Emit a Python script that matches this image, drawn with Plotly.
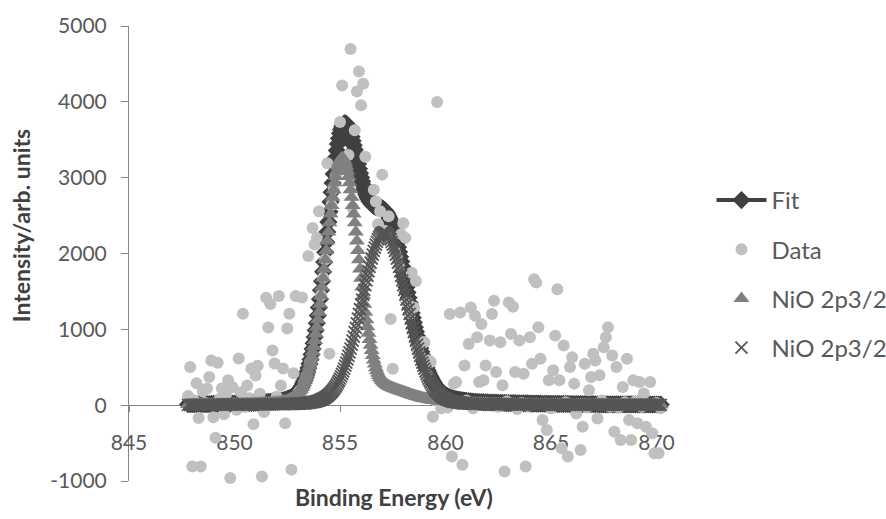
import numpy as np
import plotly.graph_objects as go

# Measured spectrum: binding energy grid (eV), 0.1 eV steps from 847.8 to 870.2
energy = np.round(np.arange(847.8, 870.25, 0.1), 1)

# Model curves: 0.1 eV in the flat tails, 0.05 eV across the peak region
model_energy = np.round(np.concatenate([
    np.arange(847.8, 852.45, 0.1),
    np.arange(852.5, 861.025, 0.05),
    np.arange(861.1, 870.25, 0.1),
]), 2)

# Fitted envelope
fit = [
    # 847.8 - 852.4
    12, 12, 12, 12, 13, 13, 14, 14, 15, 15,
    15, 16, 16, 16, 18, 18, 18, 19, 19, 21,
    21, 22, 22, 23, 24, 25, 26, 27, 28, 28,
    30, 31, 32, 33, 36, 37, 38, 41, 43, 45,
    47, 49, 53, 55, 60, 65, 73,
    # 852.50 - 861.00
    81, 85, 90, 97, 104, 112, 121, 131, 145, 157,
    174, 191, 211, 234, 257, 289, 320, 357, 397, 442,
    491, 545, 603, 668, 741, 817, 898, 987, 1081, 1182,
    1287, 1398, 1515, 1635, 1759, 1887, 2017, 2150, 2285, 2416,
    2550, 2680, 2808, 2931, 3050, 3160, 3265, 3359, 3445, 3518,
    3583, 3633, 3672, 3699, 3715, 3717, 3711, 3692, 3666, 3630,
    3587, 3538, 3484, 3426, 3367, 3304, 3243, 3179, 3119, 3059,
    3003, 2950, 2899, 2852, 2809, 2772, 2742, 2715, 2690, 2671,
    2654, 2640, 2629, 2621, 2613, 2609, 2608, 2606, 2603, 2601,
    2595, 2587, 2575, 2561, 2542, 2520, 2492, 2462, 2428, 2388,
    2346, 2300, 2251, 2196, 2140, 2082, 2021, 1958, 1893, 1827,
    1759, 1691, 1622, 1554, 1485, 1416, 1349, 1281, 1216, 1152,
    1090, 1028, 969, 912, 857, 804, 753, 704, 658, 613,
    572, 532, 495, 460, 428, 396, 368, 341, 316, 292,
    272, 251, 233, 216, 201, 186, 174, 162, 151, 141,
    132, 124, 117, 110, 104, 98, 93, 88, 84, 80,
    76, 72, 71, 68, 66, 63, 61, 59, 57, 56,
    54,
    # 861.1 - 870.2
    52, 49, 47, 45, 43, 42, 41,
    39, 38, 37, 35, 35, 33, 33, 32, 31, 30,
    29, 28, 28, 27, 26, 26, 25, 24, 24, 23,
    23, 23, 21, 21, 21, 21, 20, 20, 19, 19,
    18, 18, 18, 17, 17, 16, 16, 16, 16, 16,
    16, 14, 14, 14, 14, 14, 14, 13, 13, 13,
    13, 13, 13, 12, 12, 11, 11, 11, 11, 11,
    11, 11, 11, 11, 10, 10, 10, 10, 10, 10,
    10, 10, 10, 10, 10, 9, 9, 9, 9, 9,
    9, 9, 9, 9, 9,
]

# Measured counts on the 0.1 eV grid
data = [
    120, 502, -810, 60, 290, -170, -810, 180, 30, 220,
    370, 590, -160, -430, 560, 80, 220, -120, 140, 330,
    -960, 240, 20, -60, 615, 170, 1205, -20, 260, 90,
    485, -250, 390, 520, 150, -940, -90, 1415, 1025, 1335,
    720, 550, 110, 1440, 260, 485, -240, 1010, 1205, -850,
    420, 1440, 150, 190, 1420, 300, 370, 1966, 570, 2337,
    2120, 2206, 2556, 1450, 1680, 1920, 3189, 678, 2640, 2850,
    3010, 3150, 3735, 4216, 3200, 3100, 3300, 4696, 2600, 3626,
    4137, 4400, 3955, 4237, 3277, 1700, 1800, 1950, 2840, 2687,
    2385, 2556, 3040, 2300, 2250, 2490, 1136, 481, 2030, 1940,
    1830, 2254, 2400, 2206, 1350, 1200, 1747, 1288, 1638, 750,
    650, 830, 830, 410, 590, 568, -153, 60, 3997, 140,
    -40, 100, 40, -30, 1202, -678, 284, 305, 20, 1223,
    -786, 524, 60, 808, 1288, -40, 1180, 895, 305, 1070,
    328, 524, 10, 852, 1202, 1376, 436, -20, 830, 262,
    -874, 50, 1354, 940, 1297, 436, -50, 852, 30, 414,
    -808, -10, 895, 546, 1660, 1616, 1026, 612, -197, 20,
    -328, 328, -40, 459, 917, 1529, 328, -568, 786, 40,
    -678, 502, 633, 284, -109, 10, -590, -284, 546, -30,
    197, 371, 678, 590, -175, 393, 60, 764, 895, 1026,
    -20, 655, -350, 502, -30, -459, 240, 40, 612, -197,
    -459, 328, 50, -240, 305, -20, 153, -284, 10, 305,
    -371, -633, 30, -633, -40,
]

# First NiO 2p3/2 component (triangles)
nio_a = [
    # 847.8 - 852.4
    8, 8, 8, 8, 9, 9, 9, 9, 10, 10,
    10, 11, 11, 11, 12, 12, 12, 13, 13, 14,
    14, 15, 15, 16, 17, 17, 18, 19, 20, 20,
    21, 22, 23, 24, 26, 27, 28, 30, 32, 33,
    35, 37, 40, 42, 46, 51, 58,
    # 852.50 - 861.00
    65, 69, 74, 80, 87, 95, 103, 113, 126, 138,
    154, 170, 189, 211, 234, 264, 295, 330, 369, 412,
    459, 512, 568, 632, 702, 775, 853, 939, 1029, 1126,
    1226, 1332, 1443, 1557, 1674, 1794, 1916, 2039, 2164, 2284,
    2405, 2521, 2634, 2741, 2841, 2933, 3016, 3087, 3149, 3196,
    3232, 3253, 3260, 3253, 3232, 3196, 3149, 3087, 3016, 2933,
    2841, 2741, 2634, 2521, 2405, 2284, 2164, 2039, 1916, 1794,
    1674, 1557, 1443, 1332, 1226, 1126, 1035, 948, 865, 790,
    720, 655, 595, 543, 495, 455, 420, 391, 365, 344,
    325, 309, 295, 283, 272, 263, 254, 247, 240, 234,
    228, 222, 217, 211, 206, 201, 196, 191, 186, 181,
    176, 171, 166, 161, 156, 151, 146, 141, 137, 132,
    128, 123, 119, 115, 111, 107, 103, 99, 96, 92,
    89, 86, 83, 80, 77, 74, 72, 69, 67, 65,
    63, 61, 59, 57, 56, 54, 53, 51, 50, 48,
    47, 46, 45, 44, 43, 42, 41, 40, 39, 38,
    37, 36, 36, 35, 34, 33, 33, 32, 32, 31,
    31,
    # 861.1 - 870.2
    30, 29, 28, 27, 26, 26, 25,
    24, 24, 23, 22, 22, 21, 21, 20, 20, 19,
    19, 18, 18, 18, 17, 17, 16, 16, 16, 15,
    15, 15, 14, 14, 14, 14, 13, 13, 13, 13,
    12, 12, 12, 12, 12, 11, 11, 11, 11, 11,
    11, 10, 10, 10, 10, 10, 10, 9, 9, 9,
    9, 9, 9, 9, 9, 8, 8, 8, 8, 8,
    8, 8, 8, 8, 7, 7, 7, 7, 7, 7,
    7, 7, 7, 7, 7, 6, 6, 6, 6, 6,
    6, 6, 6, 6, 6,
]

# Second NiO 2p3/2 component (crosses)
nio_b = [
    # 847.8 - 852.4
    4, 4, 4, 4, 4, 4, 5, 5, 5, 5,
    5, 5, 5, 5, 6, 6, 6, 6, 6, 7,
    7, 7, 7, 7, 7, 8, 8, 8, 8, 8,
    9, 9, 9, 9, 10, 10, 10, 11, 11, 12,
    12, 12, 13, 13, 14, 14, 15,
    # 852.50 - 861.00
    16, 16, 16, 17, 17, 17, 18, 18, 19, 19,
    20, 21, 22, 23, 23, 25, 25, 27, 28, 30,
    32, 33, 35, 36, 39, 42, 45, 48, 52, 56,
    61, 66, 72, 78, 85, 93, 101, 111, 121, 132,
    145, 159, 174, 190, 209, 227, 249, 272, 296, 322,
    351, 380, 412, 446, 483, 521, 562, 605, 650, 697,
    746, 797, 850, 905, 962, 1020, 1079, 1140, 1203, 1265,
    1329, 1393, 1456, 1520, 1583, 1646, 1707, 1767, 1825, 1881,
    1934, 1985, 2034, 2078, 2118, 2154, 2188, 2215, 2238, 2257,
    2270, 2278, 2280, 2278, 2270, 2257, 2238, 2215, 2188, 2154,
    2118, 2078, 2034, 1985, 1934, 1881, 1825, 1767, 1707, 1646,
    1583, 1520, 1456, 1393, 1329, 1265, 1203, 1140, 1079, 1020,
    962, 905, 850, 797, 746, 697, 650, 605, 562, 521,
    483, 446, 412, 380, 351, 322, 296, 272, 249, 227,
    209, 190, 174, 159, 145, 132, 121, 111, 101, 93,
    85, 78, 72, 66, 61, 56, 52, 48, 45, 42,
    39, 36, 35, 33, 32, 30, 28, 27, 25, 25,
    23,
    # 861.1 - 870.2
    22, 20, 19, 18, 17, 16, 16,
    15, 14, 14, 13, 13, 12, 12, 12, 11, 11,
    10, 10, 10, 9, 9, 9, 9, 8, 8, 8,
    8, 8, 7, 7, 7, 7, 7, 7, 6, 6,
    6, 6, 6, 5, 5, 5, 5, 5, 5, 5,
    5, 4, 4, 4, 4, 4, 4, 4, 4, 4,
    4, 4, 4, 3, 3, 3, 3, 3, 3, 3,
    3, 3, 3, 3, 3, 3, 3, 3, 3, 3,
    3, 3, 3, 3, 3, 3, 3, 3, 3, 3,
    3, 3, 3, 3, 3,
]

x_ticks = [845, 850, 855, 860, 865, 870]
y_ticks = [-1000, 0, 1000, 2000, 3000, 4000, 5000]

FONT = "Lato, 'Open Sans', sans-serif"
AXIS_GREY = "#868686"

fig = go.Figure()
fig.add_trace(go.Scatter(
    x=model_energy, y=fit, name="Fit", mode="lines+markers",
    line=dict(color="#404040", width=4),
    marker=dict(symbol="diamond", size=14, color="#404040"),
    legendgroup="fit", cliponaxis=False,
))
fig.add_trace(go.Scatter(
    x=energy, y=data, name="Data", mode="markers",
    marker=dict(symbol="circle", size=12, color="#c0c0c0"),
    legendgroup="data", cliponaxis=False,
))
fig.add_trace(go.Scatter(
    x=model_energy, y=nio_a, name="NiO 2p3/2", mode="markers",
    marker=dict(symbol="triangle-up", size=14, color="#808080"),
    legendgroup="a", cliponaxis=False,
))
fig.add_trace(go.Scatter(
    x=model_energy, y=nio_b, name="NiO 2p3/2", mode="markers",
    marker=dict(symbol="x-thin", size=12, color="#555555",
                line=dict(color="#555555", width=1.8)),
    legendgroup="b", cliponaxis=False,
))

fig.update_layout(
    width=886, height=519,
    margin=dict(l=129, r=220, t=23, b=38),
    paper_bgcolor="white", plot_bgcolor="white",
    font=dict(family=FONT, size=21, color="#595959"),
    showlegend=True,
    xaxis=dict(
        range=[845, 870.45], tickvals=x_ticks, ticktext=[str(v) for v in x_ticks],
        anchor="free", position=1 / 6,
        showline=True, linecolor=AXIS_GREY, linewidth=1,
        ticks="outside", ticklen=6, tickcolor=AXIS_GREY, tickwidth=1,
        ticklabelstandoff=13,
        showgrid=False, zeroline=False, layer="below traces",
    ),
    yaxis=dict(
        range=[-1000, 5000], tickvals=y_ticks, ticktext=[str(v) for v in y_ticks],
        showline=True, linecolor=AXIS_GREY, linewidth=1,
        ticks="outside", ticklen=7, tickcolor=AXIS_GREY, tickwidth=1,
        ticklabelstandoff=10,
        showgrid=False, zeroline=False, layer="below traces",
    ),
    legend=dict(
        xref="container", yref="container",
        x=0.803, y=0.657, xanchor="left", yanchor="top",
        font=dict(family=FONT, size=24, color="#595959"),
        traceorder="grouped", tracegroupgap=15, itemwidth=50,
        bgcolor="rgba(0,0,0,0)",
    ),
    annotations=[
        dict(text="<b>Binding Energy (eV)</b>", xref="paper", yref="paper",
             x=0.4935, y=-0.035, xanchor="center", yanchor="middle",
             showarrow=False, font=dict(family=FONT, size=23, color="#404040")),
        dict(text="<b>Intensity/arb. units</b>", xref="paper", yref="paper",
             x=-0.201, y=0.56, xanchor="center", yanchor="middle", textangle=-90,
             showarrow=False, font=dict(family=FONT, size=23, color="#404040")),
    ],
)

fig.write_html("out.html")
